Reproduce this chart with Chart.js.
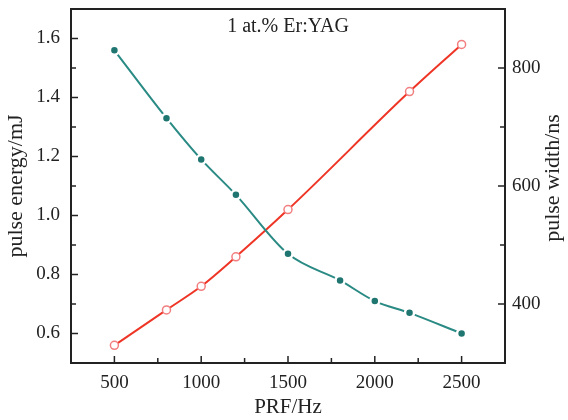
<!DOCTYPE html>
<html>
<head>
<meta charset="utf-8">
<script src="https://cdn.jsdelivr.net/npm/chart.js@4.4.1/dist/chart.umd.min.js"></script>
<style>
  body { margin: 0; background: #fff; }
</style>
</head>
<body>
<canvas id="prfChart" width="568" height="420"></canvas>
<script>
// data
const prf = [500, 800, 1000, 1200, 1500, 1800, 2000, 2200, 2500];
const pulseEnergy = [1.56, 1.33, 1.19, 1.07, 0.87, 0.78, 0.71, 0.67, 0.60];
const widthPrf = [500, 800, 1000, 1200, 1500, 2200, 2500];
const pulseWidth = [330, 390, 430, 480, 560, 760, 840];

const FONT = "'Liberation Serif', 'Times New Roman', serif";
const INK = '#222';

// frame + inward ticks, like the original plot
const frameTicks = {
    id: 'frameTicks',
    afterDraw(chart) {
        const { ctx, chartArea: a, scales } = chart;
        ctx.save();
        ctx.strokeStyle = INK;
        ctx.lineWidth = 1.5;
        const seg = (x1, y1, x2, y2) => {
            ctx.beginPath(); ctx.moveTo(x1, y1); ctx.lineTo(x2, y2); ctx.stroke();
        };
        scales.x.ticks.forEach(t => {
            const px = scales.x.getPixelForValue(t.value);
            seg(px, a.bottom, px, a.bottom - (t.value % 500 === 0 ? 7 : 5));
        });
        scales.y.ticks.forEach(t => {
            const py = scales.y.getPixelForValue(t.value);
            seg(a.left, py, a.left + (Math.round(t.value * 10) % 2 === 0 ? 7 : 5), py);
        });
        scales.y2.ticks.forEach(t => {
            const py = scales.y2.getPixelForValue(t.value);
            seg(a.right, py, a.right - (t.value % 200 === 0 ? 7 : 5), py);
        });
        ctx.lineWidth = 2;
        ctx.strokeRect(a.left, a.top, a.right - a.left, a.bottom - a.top);
        // label inside the plot
        ctx.fillStyle = INK;
        ctx.font = '20px ' + FONT;
        ctx.textAlign = 'center';
        ctx.textBaseline = 'middle';
        ctx.fillText('1 at.% Er:YAG', (a.left + a.right) / 2, a.top + 18);
        // right axis title reads bottom-to-top in the original
        ctx.font = '22px ' + FONT;
        ctx.translate(553, 178);
        ctx.rotate(-Math.PI / 2);
        ctx.fillText('pulse width/ns', 0, 0);
        ctx.restore();
    }
};

const noPad = s => { s.paddingTop = 0; s.paddingBottom = 0; s.paddingLeft = 0; s.paddingRight = 0; };

new Chart(document.getElementById('prfChart'), {
    type: 'line',
    data: {
        datasets: [{
            label: 'pulse energy',
            data: prf.map((x, i) => ({ x, y: pulseEnergy[i] })),
            yAxisID: 'y',
            borderColor: '#2a8a84',
            borderWidth: 2,
            cubicInterpolationMode: 'monotone',
            pointRadius: 4.5,
            pointBackgroundColor: '#1f7570',
            pointBorderColor: '#fff',
            pointBorderWidth: 2.5
        }, {
            label: 'pulse width',
            data: widthPrf.map((x, i) => ({ x, y: pulseWidth[i] })),
            yAxisID: 'y2',
            borderColor: '#ee3526',
            borderWidth: 2,
            cubicInterpolationMode: 'monotone',
            pointRadius: 4,
            pointBackgroundColor: '#fff',
            pointBorderColor: '#f27f80',
            pointBorderWidth: 1.5
        }]
    },
    options: {
        responsive: false,
        animation: false,
        layout: { padding: { top: 9, left: 0, right: 0, bottom: 0 } },
        plugins: {
            legend: { display: false },
            tooltip: { enabled: false }
        },
        scales: {
            x: {
                type: 'linear',
                min: 250, max: 2750,
                grid: { display: false, drawTicks: false },
                border: { display: false },
                afterFit: s => { s.height = 57; noPad(s); },
                ticks: {
                    stepSize: 250,
                    padding: 9,
                    color: INK,
                    font: { family: FONT, size: 19 },
                    maxRotation: 0,
                    autoSkip: false,
                    callback: v => v % 500 === 0 ? String(v) : ''
                },
                title: {
                    display: true, text: 'PRF/Hz', color: INK,
                    font: { family: FONT, size: 21 },
                    padding: { top: 0, bottom: 0 }
                }
            },
            y: {
                position: 'left',
                min: 0.5, max: 1.7,
                grid: { display: false, drawTicks: false },
                border: { display: false },
                afterFit: s => { s.width = 71; noPad(s); },
                ticks: {
                    stepSize: 0.1,
                    padding: 11,
                    color: INK,
                    font: { family: FONT, size: 19 },
                    autoSkip: false,
                    callback: v => Math.round(v * 10) % 2 === 0 ? v.toFixed(1) : ''
                },
                title: {
                    display: true, text: 'pulse energy/mJ', color: INK,
                    font: { family: FONT, size: 22 },
                    padding: { top: 3, bottom: 0 }
                }
            },
            y2: {
                position: 'right',
                min: 300, max: 900,
                grid: { display: false, drawTicks: false },
                border: { display: false },
                afterFit: s => { s.width = 63; noPad(s); },
                ticks: {
                    stepSize: 100,
                    padding: 7,
                    color: INK,
                    font: { family: FONT, size: 19 },
                    autoSkip: false,
                    callback: v => (v % 200 === 0 && v > 300 && v < 900) ? String(v) : ''
                }
            }
        }
    },
    plugins: [frameTicks]
});
</script>
</body>
</html>
